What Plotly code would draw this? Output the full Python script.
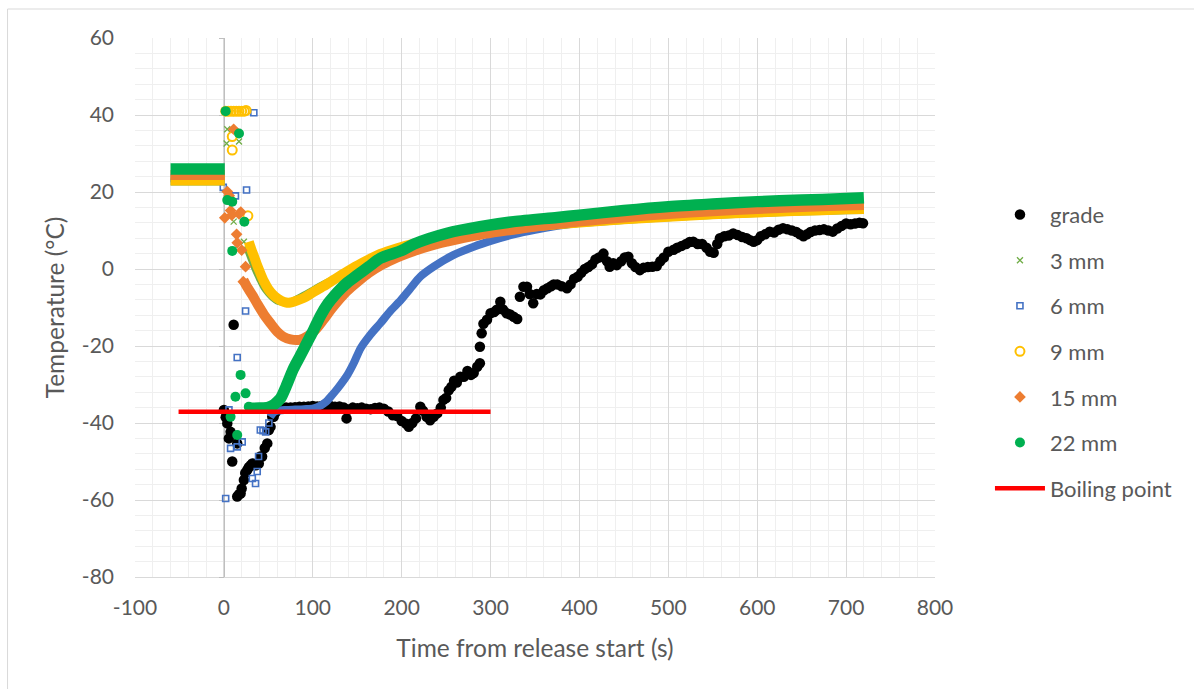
import plotly.graph_objects as go

# ---------------- data ----------------
# grade (black)
grade_t = [0, 2, 3.8, 5.6, 7.5, 9.4, 11, 15, 15, 17, 18.8, 20, 22.5, 24, 26.3, 28, 30, 32, 33.7, 36, 39.3, 41, 43, 46, 48.8,
           50.6, 52.5, 54.4, 56, 58, 60, 65, 70, 75, 80, 85, 90, 95, 100, 105, 110, 115, 120, 125, 130, 135, 138, 140,
           145, 150, 155, 160, 165, 170, 175, 180, 185, 190, 195, 200, 205, 208, 212, 216, 221, 224, 228, 232, 236, 240,
           244, 247, 250, 253, 256, 259, 262, 266, 270, 274, 278, 281, 285, 288, 288, 290, 292, 296, 300, 304, 307,
           311, 314, 318, 322, 326, 330, 333, 337, 341, 344, 348, 352, 356, 360, 364, 368, 371, 375, 380, 386, 390,
           394, 398, 402, 406, 410, 414, 418, 422, 427, 431, 434, 438, 442, 447, 451, 455, 459, 463, 468, 472, 477,
           482, 487, 491, 495, 500, 506, 510, 515, 520, 524, 528, 533, 538, 543, 547, 551, 555, 558, 563, 568, 573,
           578, 583, 588, 592, 596, 600, 604, 609, 614, 619, 624, 629, 634, 639, 644, 648, 652, 656, 660, 665, 670,
           675, 680, 685, 690, 695, 700, 705, 710, 715, 719]
grade_T = [-36.6, -38.5, -40.1, -44.0, -42.3, -50.0, -14.5, -45.3, -59.1, -58.5, -58.3, -57.0, -54.8, -53.0, -52.2, -51.5,
           -51.0, -50.5, -50.9, -51.0, -50.5, -48.7, -48.7, -46.5, -45.3, -41.8, -41.0, -38.4, -38.4, -37.3, -36.6,
           -36.2, -36.0, -36.0, -35.9, -35.8, -35.8, -35.7, -35.6, -35.7, -35.6, -35.5, -35.6, -35.8, -35.7, -36.0,
           -38.8, -36.5, -36.0, -36.2, -36.0, -36.3, -36.4, -36.1, -36.0, -36.3, -37.0, -38.0, -38.2, -39.5, -40.2,
           -41.0, -40.0, -38.8, -35.8, -36.8, -38.4, -39.3, -38.4, -37.5, -36.0, -34.0, -33.5, -31.5, -30.6, -29.0,
           -29.5, -28.0, -28.0, -26.5, -27.5, -27.0, -25.4, -24.5, -20.2, -16.7, -14.2, -13.2, -11.5, -11.2, -10.6,
           -8.5, -10.5, -11.5, -11.8, -12.4, -13.0, -7.2, -4.6, -4.6, -6.5, -8.9, -6.5, -6.6, -5.5, -5.0, -4.5, -4.0,
           -4.0, -4.5, -5.0, -4.0, -2.5, -2.0, -1.0, 0.0, 0.5, 1.2, 2.5, 3.0, 4.0, 2.0, 0.6, 1.5, 1.0, 2.0, 3.0, 3.2,
           1.5, 0.5, -0.3, 0.3, 0.5, 0.6, 0.8, 2.0, 3.0, 4.5, 5.0, 5.5, 6.0, 6.5, 7.0, 7.1, 6.5, 6.5, 5.5, 4.5, 4.2,
           6.5, 8.0, 8.5, 8.7, 9.2, 8.8, 8.3, 8.0, 7.5, 7.1, 7.5, 8.5, 9.0, 9.7, 9.5, 10.2, 10.6, 10.3, 10.0, 9.6, 9.0,
           8.5, 9.0, 9.6, 10.0, 10.1, 10.3, 10.0, 9.7, 10.5, 11.2, 11.8, 11.6, 11.8, 12.0, 11.9]

# 3 mm (green x)
mm3_scatter_t = [3, 3.8, 7.5, 17, 11, 22.5]
mm3_scatter_T = [32.6, 36.3, 40.5, 33.1, 12.3, 7.1]
mm3_pre_t = [-60, -45, -30, -15, 1]
mm3_pre_T = [22.6, 22.6, 22.6, 22.6, 22.6]
mm3_curve_t = [25, 30, 35, 40, 45, 50, 55, 60, 65, 70, 75, 80, 90, 100, 110, 125, 140, 160, 180, 200, 225, 250, 275,
               300, 330, 360, 400, 450, 500, 550, 600, 650, 700, 720]
mm3_curve_T = [6.0, 3.0, 0.0, -2.5, -4.8, -6.3, -7.5, -8.3, -8.6, -8.7, -8.5, -8.0, -6.8, -5.5, -4.2, -2.5, -0.8, 1.3,
               3.2, 4.8, 6.4, 7.8, 8.8, 9.6, 10.4, 11.0, 11.8, 12.6, 13.3, 13.9, 14.4, 14.8, 15.1, 15.2]

# 6 mm (blue open squares)
mm6_scatter_t = [-0.7, 2, 5.7, 7.5, 13, 15, 15, 20.6, 24.4, 25.5, 32, 33.7, 35.6, 37.5, 39, 41, 44, 47, 50.6]
mm6_scatter_T = [21.2, -59.6, -36.6, -46.6, 19.0, -46.2, -23.0, -44.9, -10.9, 20.5, -54.4, 40.6, -55.7, -52.6, -48.7,
                 -41.8, -42.0, -42.3, -40.0]
mm6_pre_t = [-60, -45, -30, -15, 1]
mm6_pre_T = [23.6, 23.6, 23.6, 23.6, 23.6]
mm6_curve_t = [52, 56, 60, 70, 80, 90, 101, 110, 115, 120, 128, 139, 146, 154, 165, 176, 187, 199, 210, 221, 236, 258,
               281, 303, 326, 350, 375, 400, 450, 500, 550, 600, 650, 700, 720]
mm6_curve_T = [-38.4, -37.2, -36.8, -36.6, -36.5, -36.4, -36.2, -35.3, -34.5, -33.2, -31.0, -27.5, -24.5, -20.5, -17.0,
               -14.1, -11.0, -8.1, -5.0, -2.0, 0.6, 3.6, 5.8, 7.5, 9.0, 10.2, 11.2, 12.0, 13.2, 14.2, 15.0, 15.6, 16.1,
               16.5, 16.6]

# 9 mm (yellow open circles)
mm9_scatter_t = [2, 5, 8, 11, 14, 17, 20, 23, 25, 9.4, 9.4, 27]
mm9_scatter_T = [41.0, 41.0, 41.0, 41.0, 41.0, 41.0, 41.0, 41.0, 41.2, 34.4, 30.9, 13.8]
mm9_pre_t = [-60, -45, -30, -15, 1]
mm9_pre_T = [23.0, 23.0, 23.0, 23.0, 23.0]
mm9_curve_t = [28, 31, 34, 37, 40, 45, 50, 55, 60, 65, 70, 75, 80, 90, 100, 112, 125, 139, 155, 176, 195, 214, 235, 251,
               270, 288, 310, 326, 350, 375, 400, 450, 500, 550, 600, 650, 700, 720]
mm9_curve_T = [7.1, 5.0, 3.2, 1.2, -0.5, -3.2, -5.2, -6.6, -7.6, -8.3, -8.7, -8.7, -8.4, -7.5, -6.1, -4.5, -2.6, -0.6,
               1.5, 3.9, 5.4, 6.6, 7.6, 8.3, 9.0, 9.6, 10.2, 10.6, 11.1, 11.6, 12.1, 12.9, 13.6, 14.2, 14.7, 15.1, 15.5,
               15.6]

# 15 mm (orange diamonds)
mm15_scatter_t = [1, 3.8, 6, 7.5, 9, 11, 14.3, 15, 17, 19, 20, 21.8, 24.4]
mm15_scatter_T = [13.3, 20.1, 19.0, 15.2, 14.0, 36.3, 9.0, 6.8, 14.3, 14.8, 4.9, -3.3, 0.6]
mm15_pre_t = [-60, -45, -30, -15, 1]
mm15_pre_T = [24.4, 24.4, 24.4, 24.4, 24.4]
mm15_curve_t = [22, 26, 32, 38, 45, 52, 60, 67, 75, 85, 94, 103, 112, 121, 131, 139, 150, 163, 176, 190, 200, 214, 232,
                251, 270, 288, 310, 326, 350, 375, 400, 450, 500, 550, 600, 650, 700, 720]
mm15_curve_T = [-2.9, -4.6, -6.8, -9.2, -11.8, -14.0, -16.3, -17.6, -18.3, -18.4, -17.5, -15.8, -13.2, -10.4, -7.6,
                -5.6, -3.4, -1.0, 0.9, 2.5, 3.5, 4.7, 6.0, 7.1, 8.1, 8.9, 9.7, 10.2, 11.0, 11.7, 12.3, 13.4, 14.3, 15.0,
                15.6, 16.1, 16.5, 16.6]

# 22 mm (green dots)
mm22_scatter_t = [2, 17, 3.8, 9.4, 23, 9.4, 18.8, 13, 24.4, 7.5, 15, 28]
mm22_scatter_T = [41.0, 35.2, 17.9, 17.5, 12.3, 4.7, -27.5, -33.2, -32.3, -38.4, -43.1, -35.8]
mm22_pre_t = [-60, -45, -30, -15, 1]
mm22_pre_T = [26.0, 26.0, 26.0, 26.0, 26.0]
mm22_curve_t = [30, 40, 50, 56, 60, 64, 70, 78, 86, 95, 101, 109, 117, 124, 132, 139, 150, 163, 176, 200, 214, 251, 288,
                326, 375, 400, 450, 500, 550, 600, 650, 700, 720]
mm22_curve_T = [-36.2, -36.1, -35.9, -35.3, -34.5, -33.5, -30.5, -26.0, -22.5, -18.5, -15.8, -12.0, -9.0, -7.0, -5.0,
                -3.5, -1.6, 0.6, 2.8, 4.8, 6.5, 9.3, 11.0, 12.3, 13.4, 14.0, 15.2, 16.2, 16.9, 17.5, 17.9, 18.3, 18.5]

# boiling point (red line)
boil_t = [-51, 300]
boil_T = [-37.1, -37.1]

# axis ticks
x_ticks = [-100, 0, 100, 200, 300, 400, 500, 600, 700, 800]
y_ticks = [-80, -60, -40, -20, 0, 20, 40, 60]

# ---------------- styling ----------------
FONT = "Lato"
TXT = "#595959"
C_GRADE = "#000000"
C_3 = "#70AD47"
C_6 = "#4472C4"
C_9 = "#FFC000"
C_15 = "#ED7D31"
C_22 = "#00B050"
C_BOIL = "#FF0000"

fig = go.Figure()

# boiling point line (drawn first, under the markers)
fig.add_trace(go.Scatter(x=boil_t, y=boil_T, mode="lines", name="Boiling point", yaxis="y2",
                         line=dict(color=C_BOIL, width=4.5), legendrank=7, legendgroup="g7"))

# grade
fig.add_trace(go.Scatter(x=grade_t, y=grade_T, mode="markers", name="grade",
                         marker=dict(color=C_GRADE, size=10.5, symbol="circle"), legendrank=1, legendgroup="g1"))


def band(pre_t, pre_T, cur_t, cur_T):
    return pre_t + [None] + cur_t, pre_T + [None] + cur_T


series = [
    ("3 mm", C_3, mm3_scatter_t, mm3_scatter_T, mm3_pre_t, mm3_pre_T, mm3_curve_t, mm3_curve_T,
     dict(symbol="x-thin", size=6, line=dict(color=C_3, width=1.3), color=C_3), 7, 2),
    ("6 mm", C_6, mm6_scatter_t, mm6_scatter_T, mm6_pre_t, mm6_pre_T, mm6_curve_t, mm6_curve_T,
     dict(symbol="square-open", size=6, line=dict(width=1.6), color=C_6), 8, 3),
    ("9 mm", C_9, mm9_scatter_t, mm9_scatter_T, mm9_pre_t, mm9_pre_T, mm9_curve_t, mm9_curve_T,
     dict(symbol="circle-open", size=9, line=dict(width=2), color=C_9), 10, 4),
    ("15 mm", C_15, mm15_scatter_t, mm15_scatter_T, mm15_pre_t, mm15_pre_T, mm15_curve_t, mm15_curve_T,
     dict(symbol="diamond", size=9, color=C_15), 10, 5),
    ("22 mm", C_22, mm22_scatter_t, mm22_scatter_T, mm22_pre_t, mm22_pre_T, mm22_curve_t, mm22_curve_T,
     dict(symbol="circle", size=10, color=C_22), 11.5, 6),
]

for name, col, st, sT, pt, pT, ct, cT, mk, bw, rank in series:
    bx, by = band(pt, pT, ct, cT)
    fig.add_trace(go.Scatter(x=bx, y=by, mode="lines", showlegend=False, legendgroup=f"g{rank}",
                             line=dict(color=col, width=bw, shape="spline", smoothing=0.8),
                             hoverinfo="skip"))
    fig.add_trace(go.Scatter(x=st, y=sT, mode="markers", name=name, marker=mk,
                             legendrank=rank, legendgroup=f"g{rank}"))

grid_major = "#D9D9D9"
grid_minor = "#EFEFEF"

fig.update_layout(
    width=1194, height=689,
    margin=dict(l=134.5, r=259, t=38, b=112),
    paper_bgcolor="white", plot_bgcolor="white",
    font=dict(family=FONT, size=21, color=TXT),
    showlegend=True,
    legend=dict(x=1.0687, y=0.711, xanchor="left", yanchor="top", traceorder="grouped",
                tracegroupgap=14, itemwidth=50, font=dict(family=FONT, size=22, color=TXT),
                bgcolor="rgba(0,0,0,0)"),
    xaxis=dict(range=[-100, 800], tickvals=x_ticks, ticktext=[str(v) for v in x_ticks],
               showgrid=True, gridcolor=grid_major, gridwidth=1, zeroline=False,
               showline=True, linecolor=grid_major, linewidth=1, ticks="", layer="below traces",
               minor=dict(dtick=20, showgrid=True, gridcolor=grid_minor, gridwidth=1),
               ticklabelstandoff=12,
               title=dict(text="Time from release start (s)", font=dict(family=FONT, size=24.5, color=TXT),
                          standoff=21)),
    yaxis=dict(range=[-80, 60], tickvals=y_ticks, ticktext=[str(v) for v in y_ticks],
               showgrid=True, gridcolor=grid_major, gridwidth=1, zeroline=False,
               showline=False, ticks="", layer="below traces",
               minor=dict(dtick=4, showgrid=True, gridcolor=grid_minor, gridwidth=1),
               ticklabelstandoff=20,
               title=dict(text="Temperature (°C)", font=dict(family=FONT, size=24.5, color=TXT), standoff=10)),
    yaxis2=dict(range=[-80, 60], overlaying="y", anchor="free", position=100 / 900, side="left",
                tickvals=y_ticks, showticklabels=False, ticks="outside", ticklen=5, tickcolor="#BFBFBF",
                showgrid=False, zeroline=False, showline=True, linecolor="#BFBFBF", linewidth=1.3,
                layer="below traces"),
    shapes=[dict(type="rect", xref="paper", yref="paper", x0=-0.1593, x1=1.4, y0=-0.3, y1=1.0538,
                 line=dict(color="#D9D9D9", width=1), fillcolor="rgba(0,0,0,0)", layer="below")],
)

fig.write_html("out.html")
